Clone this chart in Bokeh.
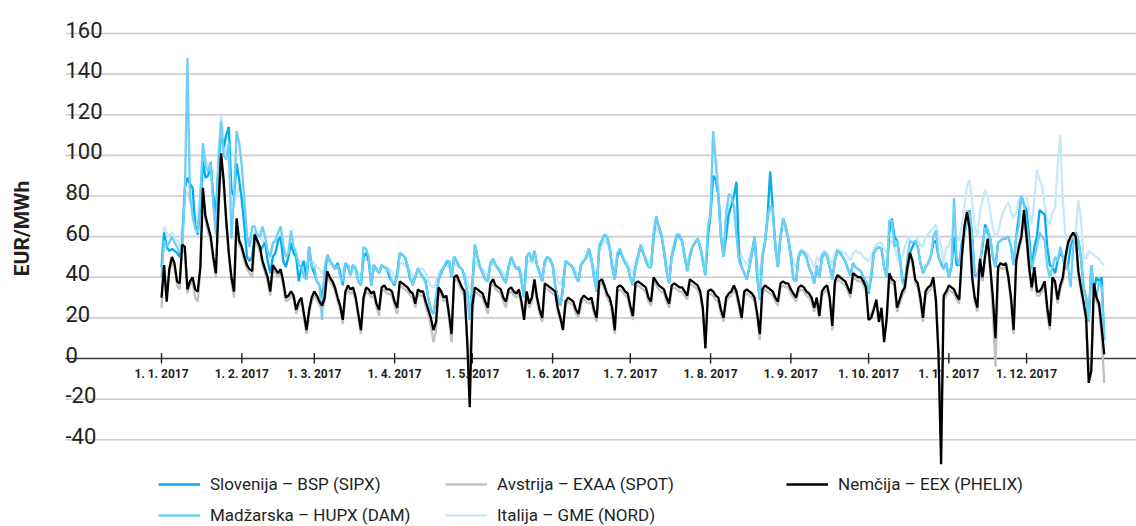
import datetime as dt
import math
from bokeh.plotting import figure
from bokeh.models import Range1d, Legend, LegendItem
from bokeh.core.properties import value
from bokeh.embed import file_html
from bokeh.resources import INLINE

# ---------------- data (daily base prices 2017, EUR/MWh) ----------------
start = dt.date(2017, 1, 1)
days = list(range(365))  # day index from 1 Jan 2017

nemcija = [30,
    46, 28, 44, 50, 47, 38, 37,
    56, 55, 34, 38, 40, 34, 33,
    45, 84, 70, 65, 60, 50, 42,
    75, 101, 88, 68, 52, 40, 33,
    69, 58, 55, 50, 46, 44, 43,
    61, 58, 55, 48, 44, 40, 33,
    46, 44, 42, 44, 38, 30, 31,
    33, 31, 24, 28, 30, 22, 14,
    24, 30, 33, 31, 28, 26, 30,
    43, 40, 38, 35, 30, 26, 19,
    33, 36, 34, 35, 30, 22, 14,
    30, 35, 34, 32, 33, 27, 24,
    35, 36, 34, 34, 33, 28, 25,
    38, 37, 36, 35, 33, 32, 27,
    34, 33, 33, 28, 24, 20, 14,
    18, 35, 33, 30, 31, 22, 12,
    40, 41, 38, 35, 33, 10, -24,
    26, 35, 34, 33, 32, 28, 25,
    37, 39, 36, 35, 34, 30, 28,
    34, 35, 33, 32, 34, 28, 19,
    33, 27, 30, 39, 30, 24, 20,
    37, 36, 35, 34, 33, 25, 20,
    14, 28, 30, 29, 28, 24, 22,
    29, 31, 30, 29, 30, 24, 20,
    38, 39, 36, 32, 30, 25, 14,
    35, 36, 35, 33, 32, 26, 21,
    37, 38, 37, 36, 35, 30, 28,
    40, 38, 36, 35, 34, 30, 27,
    36, 37, 36, 35, 35, 33, 31,
    39, 38, 37, 36, 33, 25, 5,
    33, 34, 33, 31, 30, 24, 20,
    30, 32, 33, 36, 33, 27, 20,
    33, 34, 33, 32, 30, 22, 12,
    34, 36, 35, 34, 33, 30, 28,
    37, 38, 37, 37, 34, 32, 30,
    35, 36, 35, 33, 32, 30, 25,
    30, 21, 33, 35, 36, 30, 16,
    38, 41, 40, 39, 38, 35, 32,
    42, 41, 40, 40, 38, 35, 19,
    20, 24, 29, 18, 25, 8, 20,
    42, 39, 38, 25, 29, 33, 35,
    45, 52, 48, 39, 37, 30, 20,
    33, 35, 36, 40, 29, 2, -52,
    31, 33, 36, 35, 34, 31, 29,
    50, 65, 72, 64, 40, 30, 25,
    49, 40, 51, 59, 45, 30, 10,
    45, 47, 46, 47, 40, 30, 14,
    48, 55, 60, 73, 60, 45, 35,
    45, 33, 33, 35, 38, 25, 16,
    40, 38, 29, 36, 40, 50, 57,
    60, 62, 60, 43, 35, 28, 20,
    -12, -6, 37, 30, 27, 15, 2]

avstrija = [25,
    44, 30, 42, 48, 45, 36, 34,
    54, 52, 32, 36, 38, 30, 28,
    44, 80, 68, 62, 58, 48, 40,
    72, 98, 85, 66, 50, 38, 30,
    66, 56, 53, 48, 44, 42, 40,
    58, 56, 53, 46, 42, 38, 31,
    44, 42, 40, 42, 36, 28, 29,
    31, 29, 22, 26, 28, 20, 12,
    22, 28, 31, 29, 26, 24, 28,
    41, 38, 36, 33, 28, 24, 17,
    31, 34, 32, 33, 28, 20, 12,
    28, 33, 32, 30, 31, 25, 21,
    33, 34, 32, 32, 31, 26, 22,
    36, 35, 34, 33, 31, 30, 25,
    32, 31, 31, 26, 22, 16, 8,
    14, 33, 31, 28, 29, 20, 8,
    38, 39, 36, 33, 31, 8, -2,
    22, 33, 32, 31, 30, 26, 22,
    35, 37, 34, 33, 32, 28, 25,
    32, 33, 31, 30, 32, 26, 20,
    31, 25, 28, 37, 28, 22, 18,
    35, 34, 33, 32, 31, 23, 19,
    16, 26, 28, 27, 26, 22, 20,
    27, 29, 28, 27, 28, 22, 18,
    36, 37, 34, 30, 28, 22, 12,
    33, 34, 33, 31, 30, 24, 19,
    35, 36, 35, 34, 33, 28, 26,
    38, 36, 34, 33, 32, 28, 25,
    34, 35, 34, 33, 33, 31, 29,
    37, 36, 35, 34, 31, 23, 8,
    31, 32, 31, 29, 28, 22, 18,
    28, 30, 31, 34, 31, 25, 19,
    31, 32, 31, 30, 28, 20, 9,
    32, 34, 33, 32, 31, 28, 26,
    35, 36, 35, 35, 32, 30, 28,
    33, 34, 33, 31, 30, 28, 23,
    28, 20, 31, 33, 34, 28, 14,
    36, 39, 38, 37, 36, 33, 30,
    40, 39, 38, 38, 36, 33, 20,
    22, 25, 28, 20, 24, 10, 18,
    40, 37, 36, 23, 27, 31, 33,
    43, 50, 46, 37, 35, 28, 18,
    31, 33, 34, 38, 27, 5, -40,
    29, 31, 34, 33, 32, 29, 27,
    48, 63, 73, 62, 38, 28, 23,
    47, 38, 49, 57, 43, 22, -4,
    43, 45, 44, 45, 38, 28, 12,
    46, 53, 58, 70, 58, 43, 33,
    43, 31, 31, 33, 36, 22, 14,
    38, 36, 27, 34, 38, 48, 55,
    58, 60, 58, 41, 33, 26, 18,
    -8, -2, 35, 28, 25, 10, -12]

slovenija = [45,
    62, 55, 53, 54, 53, 52, 50,
    57, 84, 89, 86, 84, 66, 61,
    75, 97, 89, 90, 96, 80, 71,
    95, 111, 104, 110, 114, 83, 80,
    96, 88, 78, 65, 50, 48, 50,
    61, 58, 53, 55, 57, 48, 42,
    50, 52, 58, 60, 48, 45, 50,
    57, 52, 50, 38, 45, 48, 39,
    55, 45, 42, 38, 36, 30, 40,
    51, 48, 46, 44, 47, 42, 36,
    47, 45, 41, 46, 44, 38, 36,
    50, 52, 48, 36, 46, 44, 42,
    46, 45, 44, 40, 38, 36, 42,
    52, 51, 50, 45, 39, 38, 40,
    44, 42, 40, 38, 30, 24, 22,
    30, 39, 42, 45, 47, 48, 40,
    50, 48, 45, 44, 40, 33, 19,
    36, 56, 50, 45, 42, 39, 38,
    47, 49, 46, 44, 42, 39, 38,
    45, 50, 47, 44, 45, 38, 30,
    50, 52, 48, 53, 46, 42, 38,
    48, 50, 49, 46, 36, 30, 26,
    35, 48, 47, 46, 44, 40, 38,
    46, 48, 50, 54, 49, 40, 33,
    55, 58, 61, 60, 55, 45, 39,
    50, 54, 50, 47, 45, 40, 36,
    45, 50, 56, 52, 48, 45, 45,
    60, 70, 65, 61, 53, 43, 37,
    50, 55, 61, 60, 58, 50, 43,
    50, 55, 57, 59, 55, 48, 41,
    60, 71, 90, 88, 80, 60, 50,
    60, 71, 75, 80, 87, 50, 45,
    42, 39, 45, 52, 60, 40, 29,
    50, 57, 70, 92, 74, 55, 45,
    60, 69, 65, 59, 50, 39, 38,
    50, 53, 52, 50, 45, 42, 37,
    45, 40, 50, 52, 50, 45, 39,
    48, 53, 52, 50, 48, 44, 41,
    47, 45, 44, 43, 40, 38, 32,
    40, 52, 54, 55, 54, 45, 40,
    62, 69, 60, 58, 50, 40, 35,
    48, 52, 55, 58, 55, 47, 42,
    45, 47, 50, 57, 58, 50, 47,
    44, 47, 40, 45, 60, 46, 46,
    57, 62, 67, 73, 60, 41, 41,
    47, 55, 66, 62, 59, 50, 45,
    57, 58, 59, 59, 60, 55, 46,
    60, 70, 80, 76, 73, 60, 44,
    55, 60, 73, 72, 71, 55, 46,
    45, 42, 48, 52, 50, 44, 46,
    55, 60, 62, 58, 50, 35, 30,
    18, 46, 33, 40, 38, 40, 9]

madzarska = [40,
    58, 55, 57, 60, 57, 55, 52,
    55, 80, 148, 80, 70, 64, 62,
    80, 106, 95, 92, 97, 75, 61,
    98, 117, 100, 98, 106, 59, 80,
    112, 106, 95, 78, 60, 55, 65,
    65, 60, 60, 65, 60, 53, 50,
    57, 58, 62, 65, 56, 50, 52,
    63, 55, 52, 46, 45, 40, 39,
    55, 45, 45, 38, 36, 19, 45,
    51, 48, 46, 44, 46, 40, 38,
    47, 46, 41, 46, 44, 38, 36,
    55, 54, 50, 36, 46, 44, 42,
    46, 45, 44, 42, 38, 37, 40,
    52, 51, 50, 46, 40, 36, 40,
    44, 42, 40, 37, 30, 24, 22,
    30, 39, 43, 45, 48, 48, 40,
    50, 48, 45, 44, 40, 33, 19,
    34, 56, 50, 45, 42, 39, 38,
    47, 49, 46, 44, 42, 39, 37,
    45, 50, 47, 44, 45, 38, 30,
    50, 52, 48, 53, 46, 42, 38,
    48, 50, 49, 46, 36, 30, 26,
    33, 48, 47, 46, 44, 40, 38,
    46, 48, 50, 54, 49, 40, 33,
    56, 58, 61, 60, 55, 45, 39,
    52, 54, 50, 47, 45, 40, 36,
    45, 50, 56, 52, 48, 45, 45,
    62, 70, 65, 61, 53, 43, 37,
    50, 57, 61, 61, 58, 50, 43,
    50, 55, 57, 59, 55, 48, 41,
    65, 71, 112, 96, 80, 60, 50,
    71, 81, 80, 75, 60, 48, 45,
    42, 39, 45, 52, 60, 42, 29,
    50, 57, 70, 75, 74, 55, 45,
    60, 69, 65, 59, 50, 39, 38,
    50, 53, 52, 50, 45, 42, 37,
    46, 40, 49, 52, 50, 45, 39,
    48, 53, 52, 50, 48, 44, 41,
    47, 45, 44, 43, 40, 38, 33,
    42, 52, 54, 55, 54, 45, 40,
    68, 68, 55, 58, 50, 38, 35,
    50, 58, 57, 58, 55, 47, 42,
    45, 47, 50, 60, 63, 50, 46,
    44, 47, 40, 46, 79, 50, 46,
    55, 60, 70, 72, 59, 42, 41,
    47, 57, 64, 64, 59, 50, 45,
    57, 58, 59, 59, 60, 55, 46,
    60, 65, 80, 76, 66, 55, 44,
    50, 55, 62, 60, 58, 45, 40,
    45, 50, 48, 55, 50, 44, 46,
    35, 55, 62, 58, 50, 35, 30,
    18, 46, 33, 30, 38, 35, 9]

italija = [50,
    65, 62, 60, 62, 60, 58, 55,
    65, 80, 82, 78, 74, 70, 65,
    80, 105, 98, 95, 92, 80, 75,
    100, 120, 110, 100, 95, 76, 75,
    80, 85, 78, 70, 62, 58, 58,
    62, 62, 60, 58, 56, 52, 52,
    56, 57, 58, 57, 55, 50, 50,
    55, 52, 50, 48, 48, 44, 44,
    50, 48, 47, 45, 44, 42, 44,
    48, 48, 47, 46, 46, 44, 42,
    47, 46, 45, 46, 45, 42, 40,
    48, 49, 48, 44, 46, 44, 42,
    46, 45, 45, 44, 43, 40, 40,
    47, 47, 46, 45, 43, 41, 40,
    45, 44, 44, 42, 38, 36, 35,
    38, 42, 44, 45, 46, 45, 42,
    47, 46, 45, 44, 42, 38, 34,
    38, 48, 46, 45, 44, 42, 40,
    46, 47, 46, 45, 44, 42, 40,
    45, 47, 46, 45, 45, 42, 38,
    47, 48, 47, 48, 46, 43, 40,
    47, 48, 48, 46, 42, 38, 36,
    40, 47, 47, 46, 45, 43, 41,
    47, 48, 49, 51, 48, 44, 40,
    52, 55, 58, 57, 54, 48, 44,
    50, 52, 50, 48, 47, 44, 42,
    48, 51, 55, 52, 50, 47, 46,
    58, 65, 62, 60, 54, 47, 43,
    52, 56, 60, 59, 57, 51, 46,
    52, 55, 57, 58, 55, 50, 45,
    60, 75, 110, 100, 85, 65, 55,
    65, 75, 78, 76, 70, 55, 50,
    48, 46, 50, 54, 58, 48, 40,
    52, 58, 66, 75, 70, 58, 50,
    60, 65, 63, 58, 53, 47, 45,
    52, 54, 53, 52, 50, 48, 45,
    50, 48, 52, 53, 52, 50, 46,
    52, 54, 53, 52, 52, 50, 48,
    52, 53, 52, 52, 50, 49, 48,
    50, 54, 56, 57, 57, 54, 52,
    56, 58, 55, 50, 47, 50, 55,
    58, 60, 60, 60, 58, 56, 55,
    60, 61, 63, 64, 66, 60, 55,
    47, 55, 55, 60, 62, 60, 58,
    66, 75, 85, 88, 78, 65, 60,
    72, 78, 83, 80, 72, 64, 60,
    62, 68, 72, 75, 77, 72, 69,
    72, 78, 80, 80, 80, 72, 66,
    78, 93, 88, 85, 75, 68, 66,
    72, 74, 95, 110, 78, 60, 57,
    60, 57, 63, 78, 69, 50, 49,
    53, 52, 51, 50, 49, 47, 46]

for s in (nemcija, avstrija, slovenija, madzarska, italija):
    assert len(s) == 365, len(s)

y_ticks = [-40, -20, 0, 20, 40, 60, 80, 100, 120, 140, 160]
y_tick_labels = [str(v) for v in y_ticks]
month_starts = [(dt.date(2017, m, 1) - start).days for m in range(1, 13)]
month_labels = [f"1. {m}. 2017" for m in range(1, 13)]

series_names = ["Slovenija – BSP (SIPX)", "Madžarska – HUPX (DAM)",
                "Avstrija – EXAA (SPOT)", "Italija – GME (NORD)",
                "Nemčija – EEX (PHELIX)"]
axis_title = "EUR/MWh"

# ---------------- styling / layout ----------------
FONT = "Roboto"
TXT = "#231f20"
W, H = 1136, 526
PX_DAY = 2.59          # pixels per day
PX_UNIT = 2.031        # pixels per EUR/MWh
X0 = -161 / PX_DAY      # data x at left edge of canvas
Y1 = 358 / PX_UNIT      # data y at top edge
Y0 = Y1 - H / PX_UNIT   # data y at bottom edge
GRID_X0 = -96 / PX_DAY  # left end of grid lines
X1 = X0 + W / PX_DAY

p = figure(width=W, height=H, output_backend="svg", toolbar_location=None,
           x_range=Range1d(X0, X1), y_range=Range1d(Y0, Y1),
           x_axis_type=None, y_axis_type=None, min_border=0)
p.outline_line_color = None
p.background_fill_color = "white"
p.border_fill_color = "white"

# grid lines
grid_y = [v for v in y_ticks if v != 0]
p.segment(x0=[GRID_X0] * len(grid_y), y0=grid_y, x1=[X1] * len(grid_y), y1=grid_y,
          line_color="#cccccc", line_width=1.6)
# zero axis line
p.segment(x0=[GRID_X0], y0=[0], x1=[X1], y1=[0], line_color="#3a3a3a", line_width=1.6)
# month ticks on zero line
p.segment(x0=month_starts, y0=[2.6] * 12, x1=month_starts, y1=[-2.5] * 12,
          line_color="#231f20", line_width=1.4)
p.text(x=month_starts, y=[0] * 12, text=month_labels, text_font=value(FONT),
       text_font_size="12px", text_font_style="bold", text_color=TXT,
       text_align="center", text_baseline="middle", y_offset=15)

# y tick labels (above their grid line, left aligned)
p.text(x=[GRID_X0] * len(y_ticks), y=y_ticks, text=y_tick_labels, text_font=value(FONT),
       text_font_size="22px", text_color=TXT, text_align="left",
       text_baseline="alphabetic", y_offset=-4)

# y title
p.text(x=[X0 + 21 / PX_DAY], y=[Y1 - 228 / PX_UNIT], text=[axis_title], angle=math.pi / 2,
       text_font=value(FONT), text_font_size="21px", text_font_style="bold",
       text_color=TXT, text_align="center", text_baseline="middle")

# series
colors = {"si": "#00aeef", "hu": "#6dcff6", "it": "#c8e8f8", "at": "#c2c2c2", "de": "#000000"}
LW = 2.3
r_it = p.line(days, italija, line_color=colors["it"], line_width=LW)
r_si = p.line(days, slovenija, line_color=colors["si"], line_width=LW)
r_hu = p.line(days, madzarska, line_color=colors["hu"], line_width=LW)
r_at = p.line(days, avstrija, line_color=colors["at"], line_width=LW)
r_de = p.line(days, nemcija, line_color=colors["de"], line_width=LW)


def make_legend(items, loc):
    lg = Legend(items=[LegendItem(label=l, renderers=[r]) for l, r in items],
                location=loc, orientation="vertical")
    lg.label_text_font = FONT
    lg.label_text_font_size = "17px"
    lg.label_text_color = TXT
    lg.glyph_width = 42
    lg.glyph_height = 20
    lg.label_height = 20
    lg.label_standoff = 10
    lg.spacing = 11
    lg.padding = 0
    lg.margin = 0
    lg.border_line_color = None
    lg.background_fill_alpha = 0
    return lg


p.add_layout(make_legend([(series_names[0], r_si), (series_names[1], r_hu)], (158, 1)))
p.add_layout(make_legend([(series_names[2], r_at), (series_names[3], r_it)], (445, 1)))
p.add_layout(make_legend([(series_names[4], r_de)], (786, 32)))

open("out.html", "w").write(file_html(p, INLINE))
